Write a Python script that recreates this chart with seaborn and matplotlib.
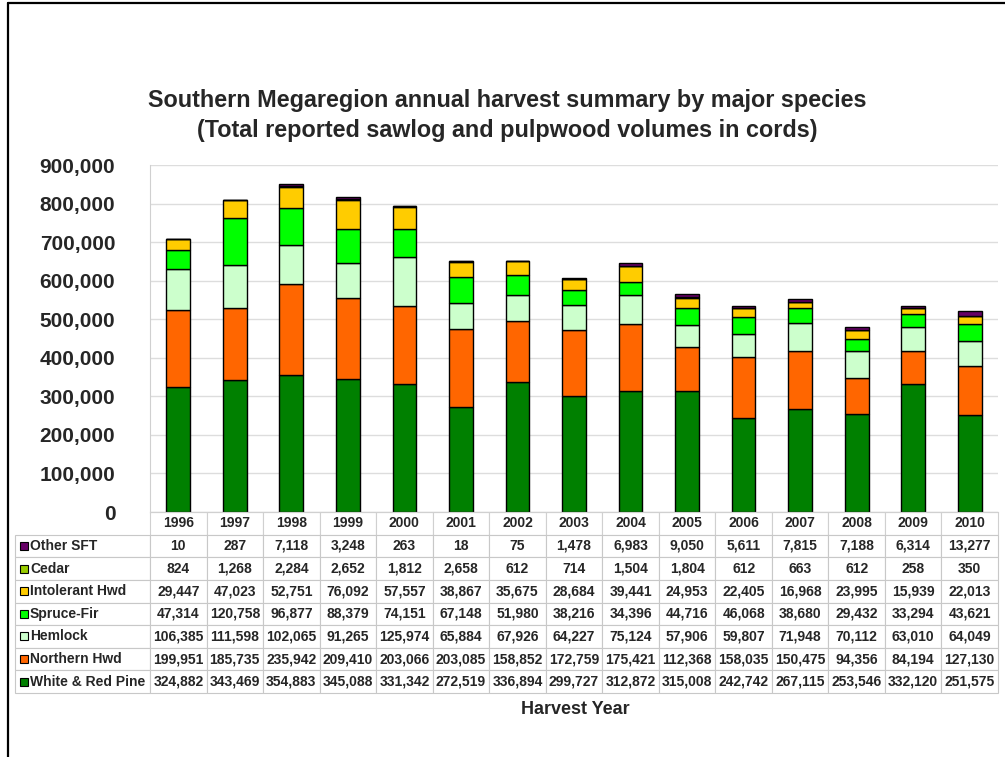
import matplotlib
matplotlib.use("Agg")
import matplotlib.pyplot as plt
from matplotlib.lines import Line2D
from matplotlib.ticker import FuncFormatter
import pandas as pd
import seaborn as sns

# Data (cords)
years = [1996, 1997, 1998, 1999, 2000, 2001, 2002, 2003, 2004, 2005, 2006, 2007, 2008, 2009, 2010]
other_sft = [10, 287, 7118, 3248, 263, 18, 75, 1478, 6983, 9050, 5611, 7815, 7188, 6314, 13277]
cedar = [824, 1268, 2284, 2652, 1812, 2658, 612, 714, 1504, 1804, 612, 663, 612, 258, 350]
intolerant_hwd = [29447, 47023, 52751, 76092, 57557, 38867, 35675, 28684, 39441, 24953, 22405, 16968, 23995, 15939, 22013]
spruce_fir = [47314, 120758, 96877, 88379, 74151, 67148, 51980, 38216, 34396, 44716, 46068, 38680, 29432, 33294, 43621]
hemlock = [106385, 111598, 102065, 91265, 125974, 65884, 67926, 64227, 75124, 57906, 59807, 71948, 70112, 63010, 64049]
northern_hwd = [199951, 185735, 235942, 209410, 203066, 203085, 158852, 172759, 175421, 112368, 158035, 150475, 94356, 84194, 127130]
white_red_pine = [324882, 343469, 354883, 345088, 331342, 272519, 336894, 299727, 312872, 315008, 242742, 267115, 253546, 332120, 251575]

species = ["Other SFT", "Cedar", "Intolerant Hwd", "Spruce-Fir", "Hemlock", "Northern Hwd", "White & Red Pine"]
series = [other_sft, cedar, intolerant_hwd, spruce_fir, hemlock, northern_hwd, white_red_pine]
colors = ["#660066", "#99CC00", "#FFCC00", "#00FF00", "#CCFFCC", "#FF6600", "#008000"]

df = pd.DataFrame([
    {"year": y, "species": s, "value": v}
    for s, vals in zip(species, series) for y, v in zip(years, vals)
])

sns.set_style("white")
plt.rcParams["font.family"] = ["Liberation Sans", "DejaVu Sans"]
plt.rcParams["font.weight"] = "bold"

W, H = 1005, 757
fig = plt.figure(figsize=(W / 100, H / 100), dpi=100)
ax_l, ax_r, ax_t, ax_b = 150, 998, 165, 512
ax = fig.add_axes([ax_l / W, 1 - ax_b / H, (ax_r - ax_l) / W, (ax_b - ax_t) / H])

# stacked bars: first hue level ends up on top
sns.histplot(data=df, x="year", weights="value", hue="species", hue_order=species,
             multiple="stack", discrete=True, shrink=0.42, palette=dict(zip(species, colors)),
             edgecolor="black", linewidth=1.0, alpha=1, legend=False, ax=ax)

ax.set_xlim(years[0] - 0.5, years[-1] + 0.5)
ax.set_ylim(0, 900000)
ax.set_yticks(range(0, 900001, 100000))
ax.yaxis.set_major_formatter(FuncFormatter(lambda v, p: f"{int(v):,}"))
ax.tick_params(axis="y", labelsize=15, length=7, color="#D0D0D0", width=1, pad=18)
for lab in ax.get_yticklabels():
    lab.set_fontweight("bold")
ax.set_xticks([])
ax.set_xlabel("")
ax.set_ylabel("")
ax.grid(axis="y", color="#DDDDDD", linewidth=1)
ax.set_axisbelow(True)
for side in ["top", "right"]:
    ax.spines[side].set_visible(False)
ax.spines["left"].set_color("#D0D0D0")
ax.spines["bottom"].set_color("#D0D0D0")

# Data table beneath the bars
cell_text = [[""] + [f"{v:,}" for v in vals] for vals in series]
col_labels = [""] + [str(y) for y in years]
tab_l, tab_b = 15, 693
ax_w, ax_h = ax_r - ax_l, ax_b - ax_t
col_w = [ax_l - tab_l] + [(ax_r - ax_l) / len(years)] * len(years)
tbl = ax.table(cellText=cell_text, colLabels=col_labels, colWidths=[c / sum(col_w) for c in col_w],
               cellLoc="center",
               bbox=[(tab_l - ax_l) / ax_w, -(tab_b - ax_b) / ax_h, (ax_r - tab_l) / ax_w, (tab_b - ax_b) / ax_h])
tbl.auto_set_font_size(False)
for (r, c), cell in tbl.get_celld().items():
    cell.set_edgecolor("#C8C8C8")
    cell.set_linewidth(0.8)
    cell.get_text().set_fontsize(10)
    cell.get_text().set_fontweight("bold")
    if r == 0 and c == 0:
        cell.set_linewidth(0)
    if r == 0:
        cell.set_edgecolor("#D0D0D0")

# Row labels with colour keys
row_h = (tab_b - 512) / (len(species) + 1)
for i, (s, col) in enumerate(zip(species, colors)):
    yc = 512 + row_h * (i + 1.5)
    fig.patches.append(plt.Rectangle((19.5 / W, 1 - (yc + 4) / H), 8 / W, 8 / H,
                                     transform=fig.transFigure, facecolor=col, edgecolor="black", linewidth=0.8))
    fig.text(30 / W, 1 - yc / H, s, fontsize=10, fontweight="bold", ha="left", va="center")

fig.text(507 / W, 1 - 100 / H, "Southern Megaregion annual harvest summary by major species",
         fontsize=16.8, fontweight="bold", ha="center", va="center")
fig.text(507 / W, 1 - 130 / H, "(Total reported sawlog and pulpwood volumes in cords)",
         fontsize=16.8, fontweight="bold", ha="center", va="center")
fig.text(575 / W, 1 - 709 / H, "Harvest Year", fontsize=13, fontweight="bold", ha="center", va="center")

# Outer frame (top and left edge)
fig.lines.append(Line2D([8 / W, 1], [1 - 3 / H, 1 - 3 / H], transform=fig.transFigure, color="black", linewidth=1.6))
fig.lines.append(Line2D([8 / W, 8 / W], [0, 1 - 3 / H], transform=fig.transFigure, color="black", linewidth=1.6))

fig.savefig("out.png", dpi=100)
